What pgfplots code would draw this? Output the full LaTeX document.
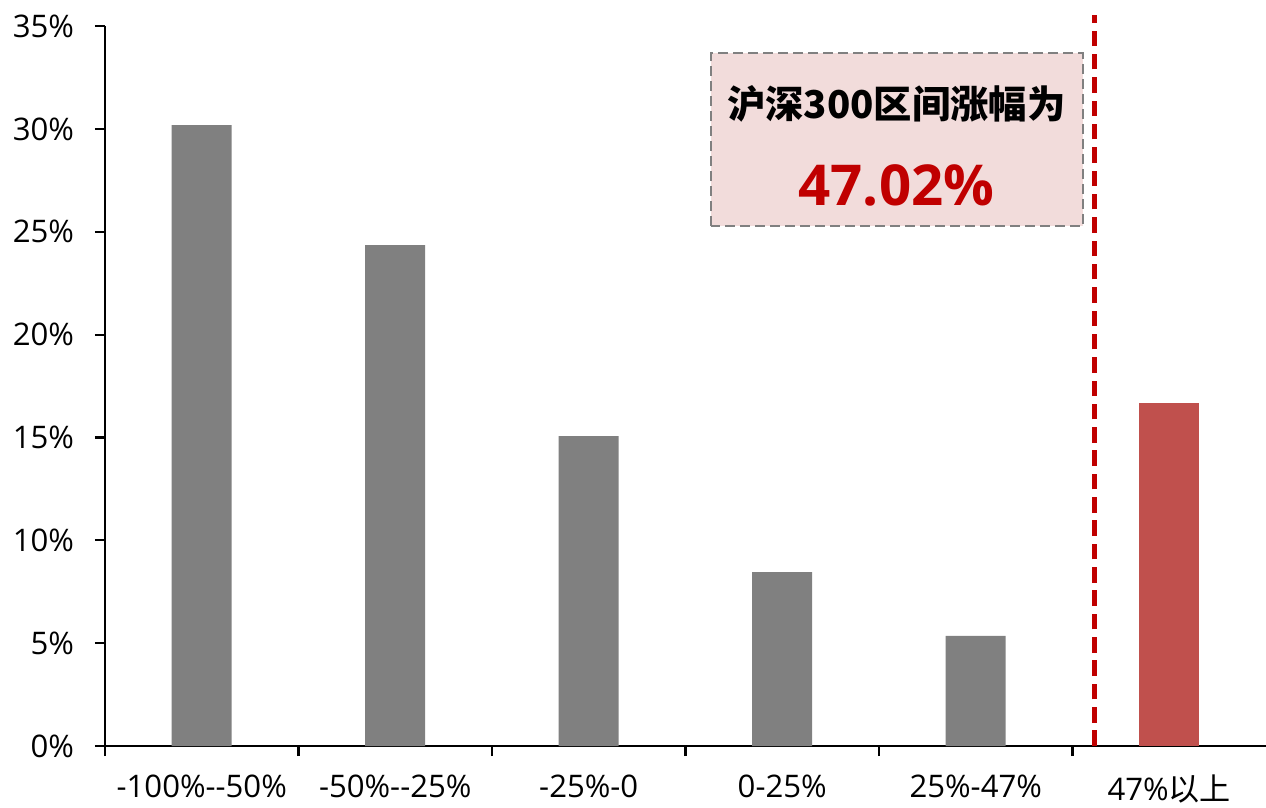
\documentclass[border=0pt]{standalone}
\usepackage{fontspec}
\setmainfont{Open Sans}
\newfontfamily\cjk{Noto Sans CJK SC}
\usepackage{pgfplots}
\pgfplotsset{compat=1.18}
\definecolor{bargray}{HTML}{808080}
\definecolor{barred}{HTML}{C0504D}
\definecolor{darkred}{HTML}{C00000}
\definecolor{boxfill}{HTML}{F2DCDB}
\begin{document}
\begin{tikzpicture}
\begin{axis}[
  scale only axis,
  width=418pt, height=259.2pt,
  xmin=-0.5, xmax=5.5,
  ymin=0, ymax=35,
  clip=false,
  axis lines*=left,
  axis line style={black, line width=0.8pt},
  tick style={black, line width=0.8pt},
  tick align=outside,
  major tick length=3.6pt,
  xtick={-0.5,0.5,1.5,2.5,3.5,4.5},
  xticklabels={},
  extra x ticks={0,1,2,3,4,5},
  extra x tick style={major tick length=0pt},
  extra x tick labels={-100\%-{}-50\%,-50\%-{}-25\%,-25\%-0,0-25\%,25\%-47\%,{47\%\cjk 以上}},
  ytick={0,5,10,15,20,25,30,35},
  yticklabels={0\%,5\%,10\%,15\%,20\%,25\%,30\%,35\%},
  ticklabel style={font=\fontsize{11.2}{13}\selectfont, text=black},
  xticklabel style={yshift=-7pt},
  yticklabel style={xshift=-4pt},
]
\addplot[ybar, bar width=21.6pt, fill=bargray, draw=none] coordinates {
  (0,30.19) (1,24.35) (2,15.07) (3,8.46) (4,5.35)
};
\addplot[ybar, bar width=21.6pt, fill=barred, draw=none] coordinates {
  (5,16.67)
};
\addplot[darkred, line width=1.7pt, dash pattern=on 5.6pt off 2.8pt] coordinates {
  (4.613,0) (4.613,35.54)
};
\draw[fill=boxfill, draw=bargray, line width=0.7pt, dash pattern=on 3.6pt off 1.8pt]
  (axis cs:2.634,25.28) rectangle (axis cs:4.552,33.69);
\node[font=\cjk\bfseries\fontsize{13.8}{16}\selectfont, text=black] at (axis cs:3.59,31.21) {沪深300区间涨幅为};
\node[font=\bfseries\fontsize{20.3}{24}\selectfont, text=darkred] at (axis cs:3.59,27.27) {47.02\%};
\end{axis}
\pgfresetboundingbox
\path[use as bounding box] (-37.8pt,-22.3pt) rectangle (418pt,268.6pt);
\end{tikzpicture}
\end{document}
